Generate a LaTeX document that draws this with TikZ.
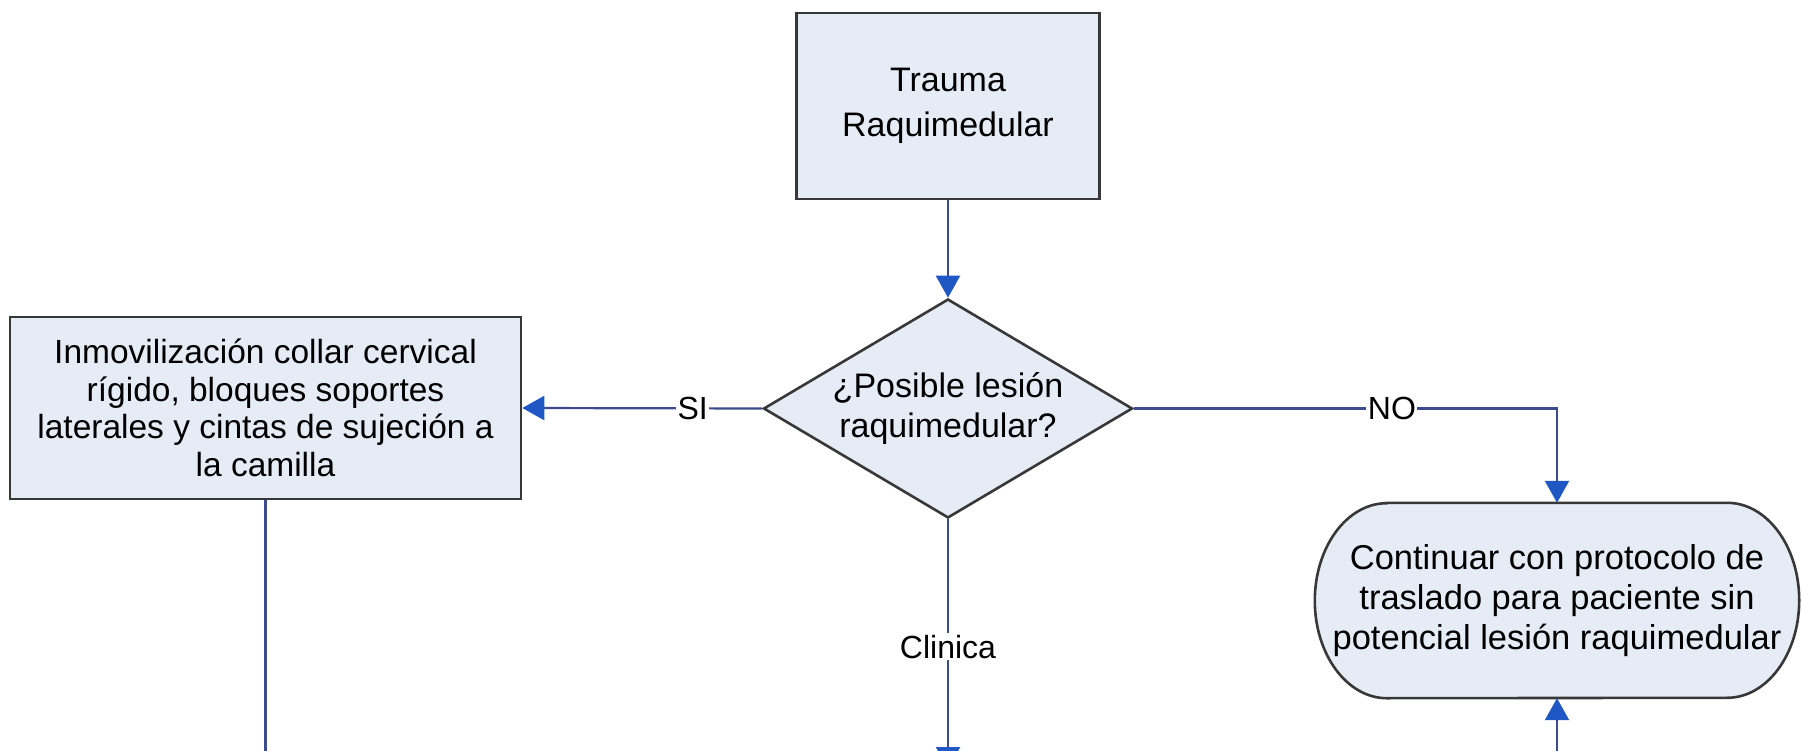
\documentclass[tikz,border=0pt]{standalone}
\usepackage{fontspec}
\setmainfont{Liberation Sans}
\usetikzlibrary{arrows.meta,shapes.geometric}
\definecolor{boxfill}{HTML}{E6ECF6}
\definecolor{boxline}{HTML}{383838}
\definecolor{linenavy}{HTML}{3C4A8E}
\definecolor{arrowblue}{HTML}{1F58C4}
\tikzset{
  box/.style={draw=boxline, line width=2.6pt, fill=boxfill, align=center, inner sep=0pt},
  conn/.style={draw=linenavy, line width=2.2pt},
  arr/.style={conn, -{Triangle[width=24pt,length=22pt,color=arrowblue]}},
  lbl/.style={fill=white, inner sep=1.5pt, font=\fontsize{32}{38}\selectfont}
}
\begin{document}
\begin{tikzpicture}[x=1pt,y=-1pt]
\clip (0,0) rectangle (1802,751);
\fill[white] (0,0) rectangle (1802,751);
% nodes
\node[box, minimum width=303pt, minimum height=186pt, font=\fontsize{34}{45}\selectfont] (trauma) at (948,106) {Trauma\\Raquimedular};
\node[box, shape=diamond, aspect=1.685, minimum width=369pt, minimum height=219pt, font=\fontsize{34}{40}\selectfont] (dec) at (948,408.5) {¿Posible lesión\\raquimedular?};
\node[box, minimum width=511pt, minimum height=182pt, font=\fontsize{33.5}{37.5}\selectfont] (inmo) at (265.5,408) {Inmovilización collar cervical\\rígido, bloques soportes\\laterales y cintas de sujeción a\\la camilla};
\node[draw=none, minimum width=484pt, minimum height=195pt, align=center, inner sep=0pt] (cont) at (1557,600.5) {};
\draw[box] ([xshift=72pt]cont.north west) -- ([xshift=-72pt]cont.north east)
  arc[start angle=90, end angle=-90, x radius=72pt, y radius=97.5pt]
  -- ([xshift=72pt]cont.south west)
  arc[start angle=270, end angle=90, x radius=72pt, y radius=97.5pt] -- cycle;
\node[align=center, font=\fontsize{34.5}{40}\selectfont] (conttext) at (cont.center) {Continuar con protocolo de\\traslado para paciente sin\\potencial lesión raquimedular};
% free ends
\coordinate (leftend) at (265.5,760);
\coordinate (midend) at (948,769);
\coordinate (rightstart) at (1557,760);
\coordinate (nocorner) at (1557,408.5);
% connectors
\draw[arr] (trauma.south) -- (dec.north);
\draw[arr] (dec.west) -- node[lbl, pos=0.29] {SI} (inmo.east);
\draw[arr] (dec.east) -- node[lbl, pos=0.61] {NO} (nocorner) -- (cont.north);
\draw[arr] (dec.south) -- node[lbl, pos=0.51] {Clinica} (midend);
\draw[conn] (inmo.south) -- (leftend);
\draw[arr] (rightstart) -- (cont.south);
\end{tikzpicture}
\end{document}
